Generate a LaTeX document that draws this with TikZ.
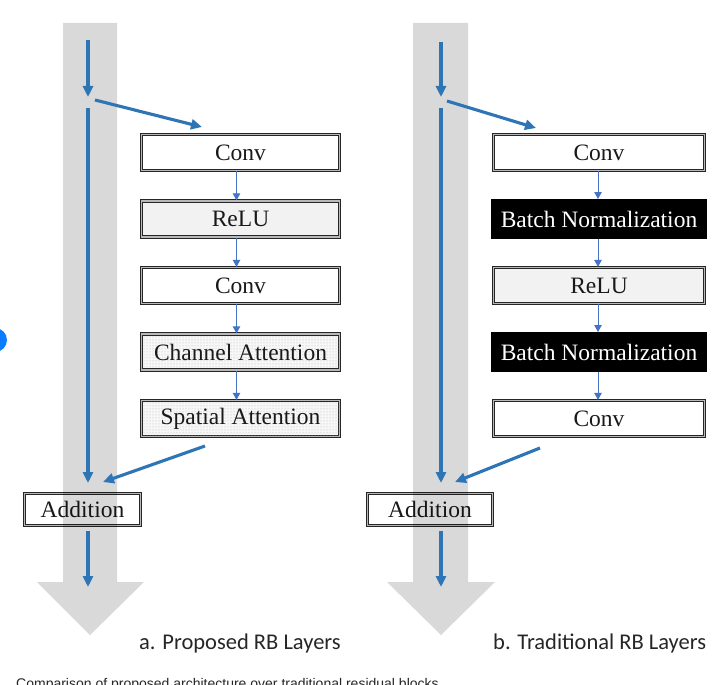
\documentclass[tikz,border=0pt]{standalone}
\usepackage{fontspec}
\setmainfont{Liberation Serif}
\newfontfamily\capfont{Carlito}
\newfontfamily\notefont{Liberation Sans}
\usetikzlibrary{arrows.meta,patterns}
\definecolor{mainblue}{HTML}{2E75B6}
\definecolor{smallblue}{HTML}{4472C4}
\definecolor{dotblue}{HTML}{0A7CFF}
\definecolor{relugray}{HTML}{F2F2F2}
\begin{document}
\begin{tikzpicture}[x=1pt,y=-1pt,
  layerbox/.style={draw=black!85, line width=1.3pt, double=gray!55, double distance=1.1pt,
    fill=white, inner sep=0pt, minimum height=36pt,
    font=\fontsize{23.5}{26}\selectfont, text=black!90},
  relubox/.style={layerbox, fill=relugray},
  attbox/.style={layerbox, fill=gray!6, postaction={pattern=dots, pattern color=black!30}},
  bnbox/.style={draw=black, fill=black, line width=1pt, inner sep=0pt, minimum height=39pt,
    font=\fontsize{23.5}{26}\selectfont, text=white},
  bigarrow/.style={draw=mainblue, line width=3.1pt, -{Triangle[length=11pt,width=10pt]}},
  smallarrow/.style={draw=smallblue, line width=1pt, -{Triangle[length=7pt,width=7.5pt]}},
  band/.style={fill=black, fill opacity=0.15, draw=none},
  captext/.style={font=\capfont\fontsize{22.5}{24}\selectfont, text=black!85, inner sep=0pt}
]
\useasboundingbox (0,0) rectangle (718,685);
\clip (0,0) rectangle (718,685);

% blue dot at left edge
\fill[dotblue] (-5,340) circle (12);

% ---------- left panel boxes ----------
\node[layerbox, minimum width=198pt] (ac1) at (240.5,152.5) {Conv};
\node[relubox, minimum width=198pt] (ar) at (240.5,219) {ReLU};
\node[layerbox, minimum width=198pt] (ac2) at (240.5,285.5) {Conv};
\node[attbox, minimum width=198pt] (aca) at (240.5,352) {Channel Attention};
\node[attbox, minimum width=198pt] (asa) at (240.5,418.5) {Spatial Attention};
\node[layerbox, minimum width=116pt, minimum height=32pt] (aadd) at (82.5,509.5) {Addition};

% ---------- right panel boxes ----------
\node[layerbox, minimum width=211pt] (bc1) at (599,152.5) {Conv};
\node[bnbox, minimum width=215pt] (bbn1) at (599,219) {Batch Normalization};
\node[relubox, minimum width=211pt] (br) at (599,285.5) {ReLU};
\node[bnbox, minimum width=215pt] (bbn2) at (599,352) {Batch Normalization};
\node[layerbox, minimum width=211pt] (bc2) at (599,418.5) {Conv};
\node[layerbox, minimum width=125pt, minimum height=32pt] (badd) at (430,509.5) {Addition};

% ---------- grey bands (over the addition boxes) ----------
\path[band] (63,23) -- (117,23) -- (117,582) -- (144,582) -- (90,635) -- (37,582) -- (63,582) -- cycle;
\path[band] (413,23) -- (468,23) -- (468,582) -- (495,582) -- (441,635) -- (387,582) -- (413,582) -- cycle;

% ---------- small arrows ----------
\foreach \u/\v in {ac1/ar, ar/ac2, ac2/aca, aca/asa}
  \draw[smallarrow] ([xshift=-4pt]\u.south) -- ([xshift=-4pt]\v.north);
\foreach \u/\v in {bc1/bbn1, bbn1/br, br/bbn2, bbn2/bc2}
  \draw[smallarrow] ([xshift=-1pt]\u.south) -- ([xshift=-1pt]\v.north);

% ---------- main blue arrows, left ----------
\coordinate (ain) at (88,40);
\coordinate (asplit) at (88,97);
\coordinate (askip) at (88,108);
\coordinate (abranch) at (95,100);
\coordinate (aconvin) at (202,127);
\coordinate (aout) at (205,446);
\coordinate (aaddin) at (103,482);
\coordinate (askipend) at (88,483);
\coordinate (aaddout) at (88,531);
\coordinate (aend) at (88,587);
\draw[bigarrow] (ain) -- (asplit);
\draw[bigarrow] (askip) -- (askipend);
\draw[bigarrow] (abranch) -- (aconvin);
\draw[bigarrow] (aout) -- (aaddin);
\draw[bigarrow] (aaddout) -- (aend);

% ---------- main blue arrows, right ----------
\coordinate (bin) at (441,42);
\coordinate (bsplit) at (441,97);
\coordinate (bskip) at (441,108);
\coordinate (bbranch) at (447,101);
\coordinate (bconvin) at (536,128);
\coordinate (bout) at (540,448);
\coordinate (baddin) at (455,482);
\coordinate (bskipend) at (441,483);
\coordinate (baddout) at (441,531);
\coordinate (bend) at (441,587);
\draw[bigarrow] (bin) -- (bsplit);
\draw[bigarrow] (bskip) -- (bskipend);
\draw[bigarrow] (bbranch) -- (bconvin);
\draw[bigarrow] (bout) -- (baddin);
\draw[bigarrow] (baddout) -- (bend);

% ---------- captions ----------
\node[captext, anchor=base west] (capa) at (139,649) {a. Proposed RB Layers};
\node[captext, anchor=base west] (capb) at (493,649) {b. Traditional RB Layers};
\node[font=\notefont\fontsize{14}{16}\selectfont, text=black!85, inner sep=0pt, anchor=base west] (note) at (16,688)
  {Comparison of proposed architecture over traditional residual blocks};
\end{tikzpicture}
\end{document}
